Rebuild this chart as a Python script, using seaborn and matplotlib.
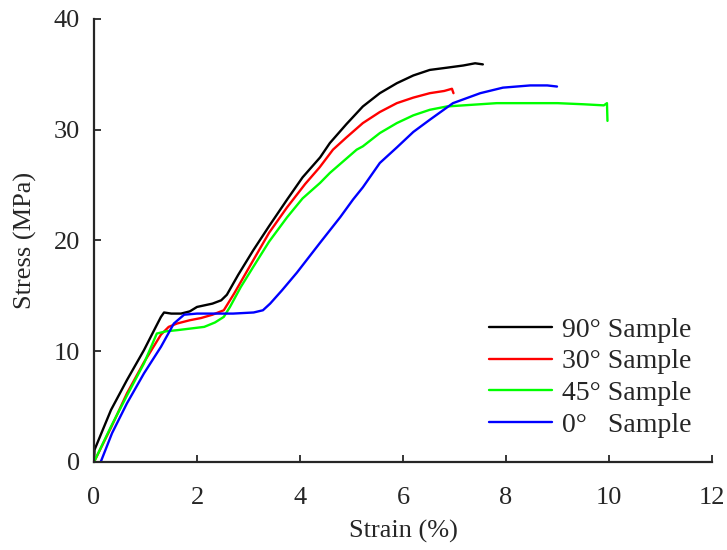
import matplotlib
matplotlib.use("Agg")
import matplotlib.pyplot as plt
import seaborn as sns

# stress-strain curves (strain %, stress MPa)
strain_90 = [0.0, 0.01, 0.33, 0.64, 0.97, 1.2, 1.3, 1.36, 1.5, 1.69, 1.86, 2.0, 2.3, 2.47, 2.58,
             2.8, 3.09, 3.4, 3.75, 4.05, 4.39, 4.58, 4.9, 5.22, 5.55, 5.88, 6.2, 6.52, 6.85,
             7.17, 7.4, 7.55]
stress_90 = [0.0, 1.1, 4.7, 7.4, 10.1, 12.2, 13.1, 13.5, 13.4, 13.4, 13.6, 14.0, 14.3, 14.6, 15.1,
             16.9, 19.1, 21.3, 23.7, 25.7, 27.5, 28.8, 30.5, 32.1, 33.3, 34.2, 34.9, 35.4, 35.6,
             35.8, 36.0, 35.9]

strain_30 = [0.0, 0.33, 0.64, 0.97, 1.3, 1.45, 1.61, 1.86, 2.08, 2.3, 2.52, 2.72, 3.09, 3.4,
             3.75, 4.1, 4.38, 4.64, 4.9, 5.22, 5.55, 5.88, 6.2, 6.52, 6.8, 6.95, 6.98]
stress_30 = [0.0, 3.1, 6.2, 9.0, 11.5, 12.2, 12.5, 12.8, 13.0, 13.3, 13.7, 15.2, 18.2, 20.7,
             23.0, 25.1, 26.6, 28.2, 29.3, 30.6, 31.6, 32.4, 32.9, 33.3, 33.5, 33.7, 33.3]

strain_45 = [0.0, 0.33, 0.64, 0.97, 1.22, 1.4, 1.61, 2.14, 2.35, 2.52, 2.64, 2.85, 3.09, 3.4,
             3.75, 4.05, 4.39, 4.58, 5.1, 5.22, 5.55, 5.88, 6.2, 6.52, 6.85, 7.17, 7.82, 8.47,
             9.0, 9.5, 9.9, 9.96, 9.97]
stress_45 = [0.0, 3.2, 6.0, 8.9, 11.6, 11.8, 11.9, 12.2, 12.6, 13.1, 14.0, 15.8, 17.6, 19.9,
             22.1, 23.8, 25.2, 26.1, 28.2, 28.5, 29.7, 30.6, 31.3, 31.8, 32.1, 32.2, 32.4, 32.4,
             32.4, 32.3, 32.2, 32.4, 30.8]

strain_0 = [0.13, 0.35, 0.64, 0.97, 1.3, 1.55, 1.75, 2.0, 2.27, 2.7, 3.1, 3.28, 3.42, 3.65,
            3.94, 4.39, 4.78, 5.03, 5.22, 5.55, 5.88, 6.2, 6.52, 6.97, 7.5, 7.94, 8.47, 8.8,
            8.99]
stress_0 = [0.0, 2.6, 5.3, 8.0, 10.4, 12.5, 13.3, 13.4, 13.4, 13.4, 13.5, 13.7, 14.3, 15.5,
            17.1, 19.8, 22.1, 23.7, 24.8, 27.0, 28.4, 29.8, 30.9, 32.4, 33.3, 33.8, 34.0, 34.0,
            33.9]

labels = ["90° Sample", "30° Sample", "45° Sample", "0°   Sample"]
colors = ["#000000", "#ff0000", "#00ff00", "#0000ff"]

sns.set_style("ticks")
plt.rcParams["font.family"] = ["Liberation Serif", "DejaVu Serif"]

fig = plt.figure(figsize=(7.27, 5.5), dpi=100)
ax = fig.add_axes([0.1293, 0.16, 0.8501, 0.8055])

curves = [(strain_90, stress_90), (strain_30, stress_30),
          (strain_45, stress_45), (strain_0, stress_0)]
for (x, y), lab, col in zip(curves, labels, colors):
    sns.lineplot(x=x, y=y, ax=ax, color=col, lw=1.7, label=lab,
                 sort=False, estimator=None)

ax.set_xlim(0, 12)
ax.set_ylim(0, 40)
ax.set_xticks(range(0, 13, 2))
ax.set_yticks(range(0, 41, 10))
ax.tick_params(direction="in", length=5, width=1.3, labelsize=19)
ax.tick_params(axis="x", pad=18)
ax.tick_params(axis="y", pad=10)
for side in ["left", "bottom"]:
    ax.spines[side].set_linewidth(1.6)
sns.despine(ax=ax)

ax.set_xlabel("Strain (%)", fontsize=19, labelpad=8)
ax.set_ylabel("Stress (MPa)", fontsize=19, labelpad=12)

ax.legend(loc="lower right", frameon=False, fontsize=20, handlelength=2.27,
          handletextpad=0.36, labelspacing=0.22, borderaxespad=0,
          bbox_to_anchor=(0.985, 0.03))

fig.savefig("out.png", dpi=100)
